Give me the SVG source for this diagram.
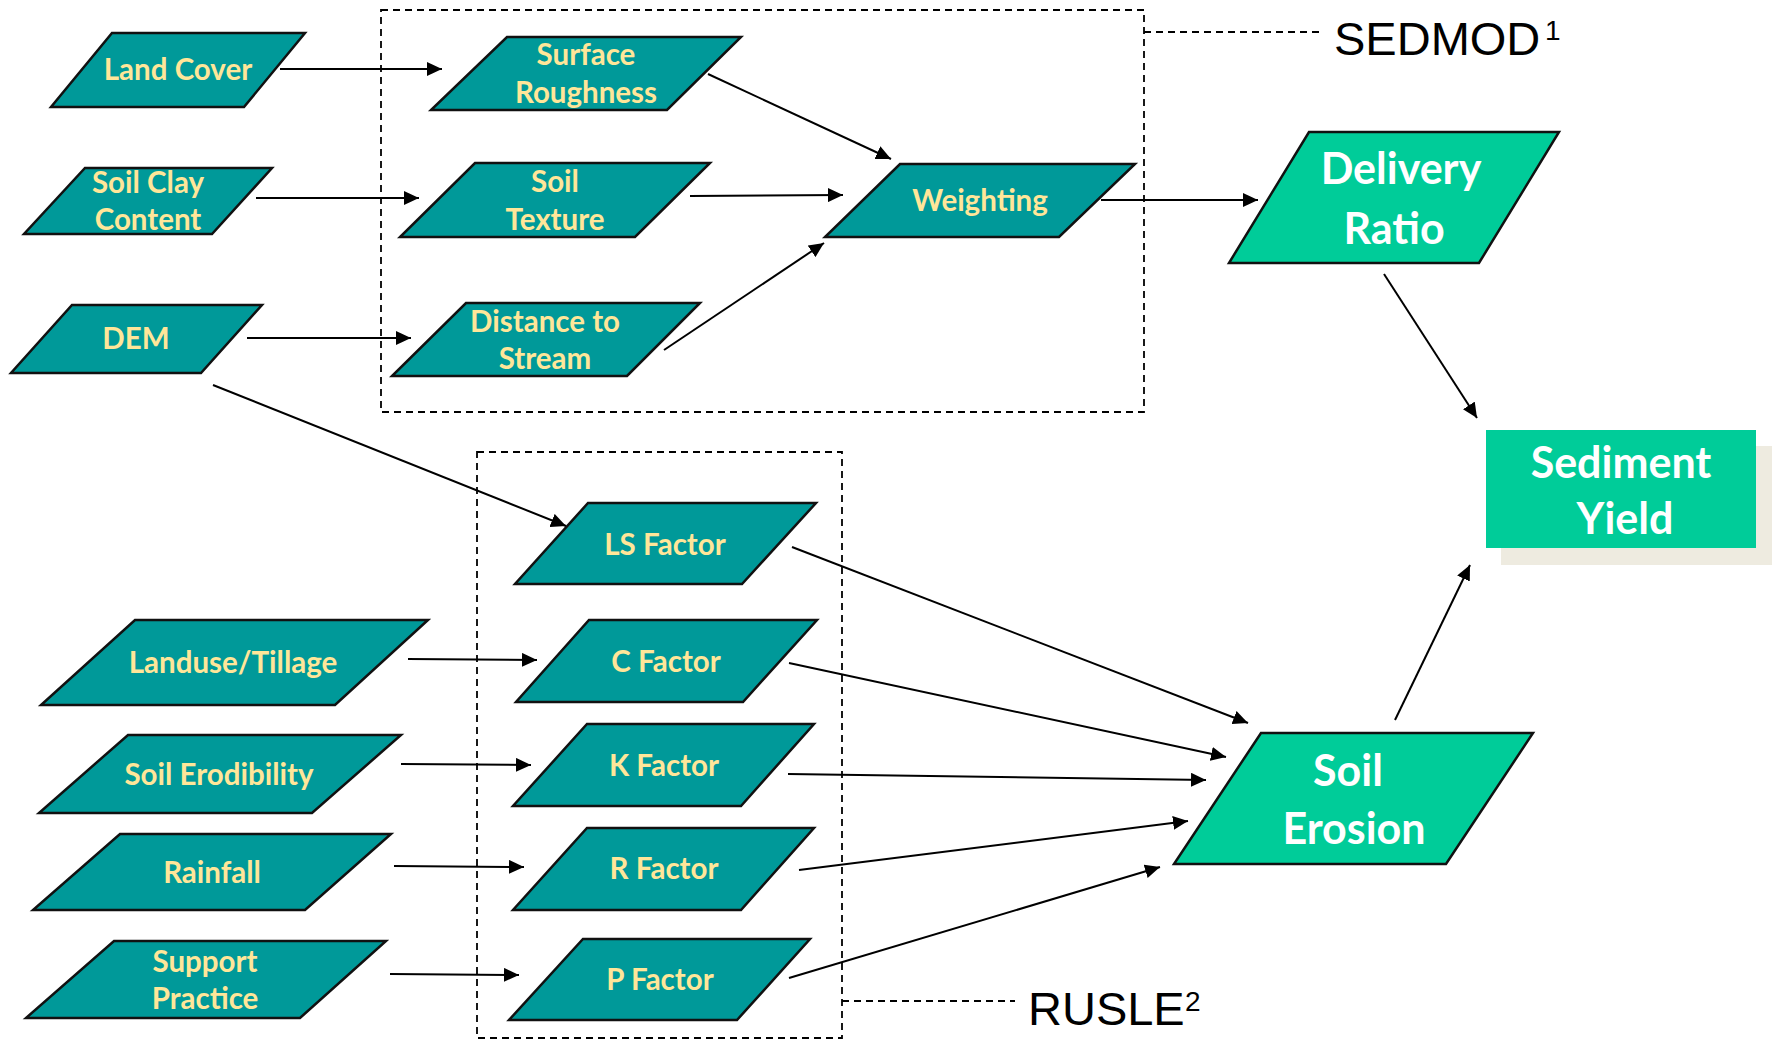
<svg xmlns="http://www.w3.org/2000/svg" width="1779" height="1040" viewBox="0 0 1779 1040">
<defs>
<style>
.n{fill:#009999;stroke:#111;stroke-width:2.5;stroke-linejoin:miter}
.g{fill:#00CC99;stroke:#111;stroke-width:2.5}
.t{font-family:Lato,"Open Sans",sans-serif;font-weight:bold;font-size:29.5px;fill:#FFE699;text-anchor:middle}
.w{font-family:Lato,"Open Sans",sans-serif;font-weight:bold;font-size:43px;fill:#FFFFFF;text-anchor:middle}
.lbl{font-family:"Liberation Sans",Arial,sans-serif;font-size:47px;fill:#000}
.sup{font-family:"Liberation Sans",Arial,sans-serif;font-size:28px;fill:#000}
.c{stroke:#000;stroke-width:2;fill:none;marker-end:url(#ah)}
.d{stroke:#000;stroke-width:1.8;fill:none;stroke-dasharray:7,5}
</style>
<marker id="ah" markerUnits="userSpaceOnUse" markerWidth="15" markerHeight="14" refX="15" refY="7" orient="auto">
<path d="M0,0 L15,7 L0,14 z" fill="#000"/>
</marker>
</defs>
<rect width="1779" height="1040" fill="#fff"/>

<g id="groups">
<rect class="d" x="381" y="10" width="763" height="402"/>
<line class="d" x1="1144" y1="32" x2="1322" y2="32"/>
<text class="lbl" x="1334" y="55">SEDMOD</text><text class="sup" x="1545" y="40">1</text>
<rect class="d" x="477" y="452" width="365" height="586"/>
<line class="d" x1="842" y1="1001" x2="1015" y2="1001"/>
<text class="lbl" x="1028" y="1025">RUSLE</text><text class="sup" x="1185" y="1011">2</text>
</g>

<g id="node-land-cover"><polygon class="n" points="112,33 305,33 244,107 51,107"/><text class="t" x="178" y="80">Land Cover</text></g>
<g id="node-surface-roughness"><polygon class="n" points="507,37 741,37 667,110 431,110"/><text class="t" x="586" y="65">Surface</text><text class="t" x="586" y="103">Roughness</text></g>
<g id="node-soil-clay"><polygon class="n" points="85,168 272,168 212,234 24,234"/><text class="t" x="148" y="193">Soil Clay</text><text class="t" x="148" y="230">Content</text></g>
<g id="node-soil-texture"><polygon class="n" points="475,163 710,163 635,237 400,237"/><text class="t" x="555" y="192">Soil</text><text class="t" x="555" y="230">Texture</text></g>
<g id="node-dem"><polygon class="n" points="72,305 262,305 201,373 11,373"/><text class="t" x="136" y="349">DEM</text></g>
<g id="node-distance"><polygon class="n" points="466,303 700,303 627,376 392,376"/><text class="t" x="545" y="332">Distance to</text><text class="t" x="545" y="369">Stream</text></g>
<g id="node-weighting"><polygon class="n" points="900,164 1135,164 1059,237 825,237"/><text class="t" x="980" y="211">Weighting</text></g>
<g id="node-delivery-ratio"><polygon class="g" points="1309,132 1559,132 1479,263 1229,263"/><text class="w" x="1401" y="184">Delivery</text><text class="w" x="1394" y="244">Ratio</text></g>
<g id="node-sediment-yield"><rect x="1501" y="446" width="271" height="119" fill="#EEEBE0"/><rect x="1486" y="430" width="270" height="118" fill="#00CC99"/><text class="w" x="1621" y="478">Sediment</text><text class="w" x="1625" y="534">Yield</text></g>
<g id="node-ls"><polygon class="n" points="588,503 816,503 742,584 515,584"/><text class="t" x="665" y="555">LS Factor</text></g>
<g id="node-c"><polygon class="n" points="589,620 817,620 743,702 516,702"/><text class="t" x="666" y="672">C Factor</text></g>
<g id="node-k"><polygon class="n" points="587,724 814,724 741,806 513,806"/><text class="t" x="664" y="776">K Factor</text></g>
<g id="node-r"><polygon class="n" points="587,828 814,828 741,910 513,910"/><text class="t" x="664" y="879">R Factor</text></g>
<g id="node-p"><polygon class="n" points="583,939 810,939 737,1020 509,1020"/><text class="t" x="660" y="990">P Factor</text></g>
<g id="node-landuse"><polygon class="n" points="135,620 428,620 335,705 41,705"/><text class="t" x="233" y="673">Landuse/Tillage</text></g>
<g id="node-soil-erodibility"><polygon class="n" points="128,735 401,735 312,813 39,813"/><text class="t" x="219" y="785">Soil Erodibility</text></g>
<g id="node-rainfall"><polygon class="n" points="120,834 391,834 305,910 33,910"/><text class="t" x="212" y="883">Rainfall</text></g>
<g id="node-support"><polygon class="n" points="114,941 386,941 300,1018 26,1018"/><text class="t" x="205" y="972">Support</text><text class="t" x="205" y="1009">Practice</text></g>
<g id="node-soil-erosion"><polygon class="g" points="1261,733 1533,733 1446,864 1174,864"/><text class="w" x="1348" y="786">Soil</text><text class="w" x="1354" y="844">Erosion</text></g>

<g id="connectors">
<line class="c" x1="280" y1="69" x2="442" y2="69"/>
<line class="c" x1="256" y1="198" x2="419" y2="198"/>
<line class="c" x1="247" y1="338" x2="411" y2="338"/>
<line class="c" x1="708" y1="74" x2="891" y2="159"/>
<line class="c" x1="690" y1="196" x2="843" y2="195"/>
<line class="c" x1="664" y1="350" x2="824" y2="243"/>
<line class="c" x1="1101" y1="200" x2="1258" y2="200"/>
<line class="c" x1="1384" y1="274" x2="1477" y2="418"/>
<line class="c" x1="1395" y1="720" x2="1470" y2="565"/>
<line class="c" x1="213" y1="385" x2="566" y2="526"/>
<line class="c" x1="792" y1="547" x2="1248" y2="723"/>
<line class="c" x1="789" y1="663" x2="1226" y2="757"/>
<line class="c" x1="788" y1="774" x2="1206" y2="780"/>
<line class="c" x1="799" y1="870" x2="1188" y2="821"/>
<line class="c" x1="789" y1="978" x2="1160" y2="867"/>
<line class="c" x1="408" y1="659" x2="537" y2="660"/>
<line class="c" x1="401" y1="764" x2="531" y2="765"/>
<line class="c" x1="394" y1="866" x2="524" y2="867"/>
<line class="c" x1="390" y1="974" x2="519" y2="975"/>
</g>
</svg>
